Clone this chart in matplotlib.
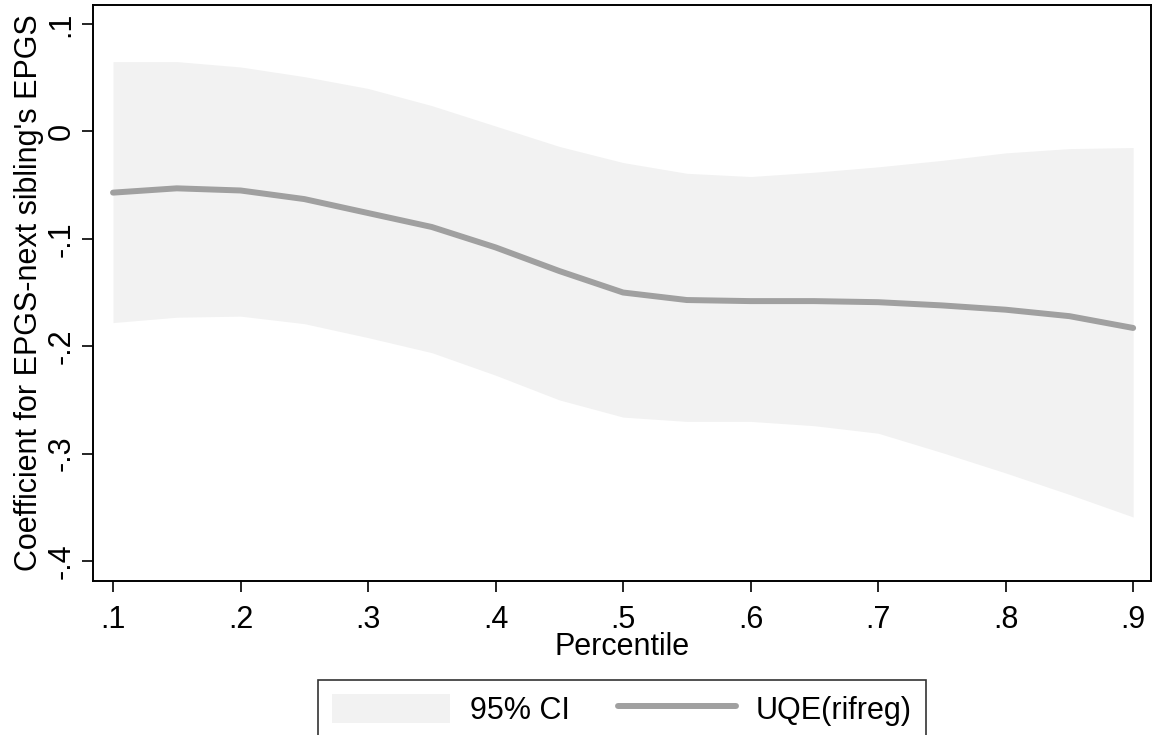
import numpy as np
import matplotlib
matplotlib.use("Agg")
import matplotlib.pyplot as plt
from matplotlib.ticker import FuncFormatter

plt.rcParams['font.family'] = ['Liberation Sans', 'DejaVu Sans']

# percentiles and estimates
pct = [0.10, 0.15, 0.20, 0.25, 0.30, 0.35, 0.40, 0.45, 0.50,
       0.55, 0.60, 0.65, 0.70, 0.75, 0.80, 0.85, 0.90]
coef = [-0.057, -0.053, -0.055, -0.063, -0.076, -0.089, -0.108, -0.130, -0.150,
        -0.157, -0.158, -0.158, -0.159, -0.162, -0.166, -0.172, -0.183]
ci_hi = [0.065, 0.065, 0.060, 0.051, 0.040, 0.024, 0.005, -0.014, -0.029,
         -0.039, -0.042, -0.038, -0.033, -0.027, -0.020, -0.016, -0.015]
ci_lo = [-0.178, -0.173, -0.172, -0.179, -0.192, -0.206, -0.227, -0.250, -0.266,
         -0.270, -0.270, -0.274, -0.281, -0.299, -0.318, -0.338, -0.359]

xticks = [0.1, 0.2, 0.3, 0.4, 0.5, 0.6, 0.7, 0.8, 0.9]
yticks = [-0.4, -0.3, -0.2, -0.1, 0.0, 0.1]


def stata_fmt(v, pos=None):
    s = f"{v:.1f}"
    if s in ("0.0", "-0.0"):
        return "0"
    return s.replace("0.", ".")


fig = plt.figure(figsize=(11.53, 7.35), dpi=100)
ax = fig.add_axes([93 / 1153, 1 - 581 / 735, (1151 - 93) / 1153, (581 - 5) / 735])

ax.fill_between(pct, ci_lo, ci_hi, color='#f2f2f2', linewidth=0, label='95% CI')
ax.plot(pct, coef, color='#a0a0a0', linewidth=4.3, solid_capstyle='round', label='UQE(rifreg)')

ax.set_xlim(0.0843, 0.914)
ax.set_ylim(-0.4186, 0.1177)
ax.set_xticks(xticks)
ax.set_yticks(yticks)
ax.xaxis.set_major_formatter(FuncFormatter(stata_fmt))
ax.yaxis.set_major_formatter(FuncFormatter(stata_fmt))

ax.tick_params(axis='both', direction='out', length=8, width=1.2, labelsize=22, colors='black')
ax.tick_params(axis='x', pad=9)
ax.tick_params(axis='y', pad=4)
for lab in ax.get_yticklabels():
    lab.set_rotation(90)
    lab.set_va('center')

for sp in ax.spines.values():
    sp.set_linewidth(1.4)
    sp.set_color('black')

ax.set_xlabel('Percentile', fontsize=22, labelpad=-2)
ax.set_ylabel("Coefficient for EPGS-next sibling's EPGS", fontsize=22, labelpad=2)

handles, labels = ax.get_legend_handles_labels()
leg = fig.legend(handles, labels, loc='upper center', ncol=2,
                 bbox_to_anchor=(622 / 1153, 1 - 680 / 735),
                 fontsize=22, frameon=True, fancybox=False,
                 handlelength=3.85, handleheight=1.1, handletextpad=0.65,
                 columnspacing=1.6, borderpad=0.45, borderaxespad=0)
leg.get_frame().set_edgecolor('black')
leg.get_frame().set_linewidth(1.2)

fig.savefig('out.png', dpi=100)
